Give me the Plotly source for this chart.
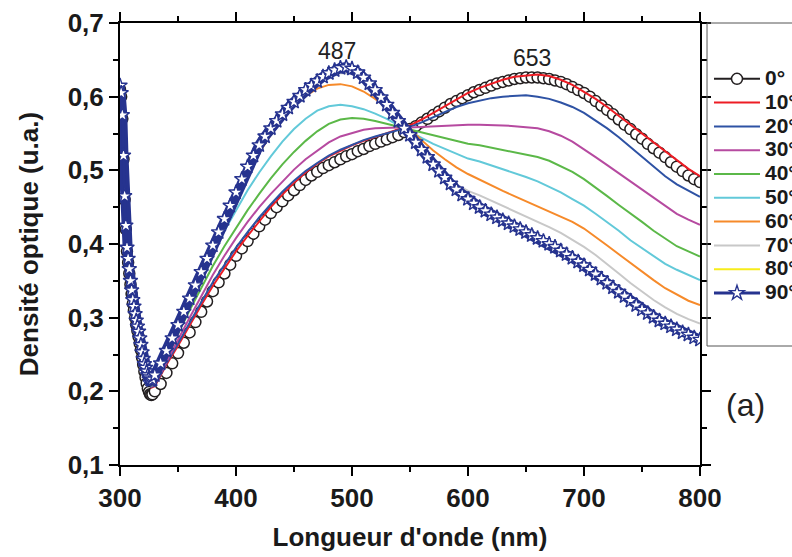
import plotly.graph_objects as go

# ---------------- data ----------------
angles = ["0°", "10°", "20°", "30°", "40°", "50°", "60°", "70°", "80°", "90°"]

# dense grid for the marker series (0° and 90°)
wl_fine = list(range(300, 329)) + list(range(330, 801, 5))

od_0 = [0.61, 0.6, 0.57, 0.515, 0.46, 0.42, 0.39, 0.375, 0.36, 0.345,
        0.332, 0.319, 0.31, 0.3, 0.29, 0.282, 0.274, 0.265, 0.256, 0.246,
        0.236, 0.227, 0.219, 0.211, 0.204, 0.199, 0.196, 0.195, 0.196,
        0.2, 0.21, 0.225, 0.238, 0.252, 0.266, 0.28, 0.294, 0.308, 0.322,
        0.336, 0.348, 0.36, 0.372, 0.384, 0.394, 0.404, 0.414, 0.424, 0.433,
        0.442, 0.45, 0.458, 0.466, 0.473, 0.48, 0.487, 0.493, 0.498, 0.503,
        0.507, 0.511, 0.515, 0.519, 0.522, 0.526, 0.529, 0.533, 0.536, 0.539,
        0.542, 0.545, 0.548, 0.552, 0.556, 0.56, 0.565, 0.57, 0.575, 0.58,
        0.585, 0.59, 0.594, 0.598, 0.602, 0.606, 0.609, 0.612, 0.615, 0.618,
        0.62, 0.622, 0.624, 0.625, 0.626, 0.626, 0.626, 0.625, 0.624, 0.622,
        0.62, 0.617, 0.613, 0.609, 0.605, 0.6, 0.594, 0.588, 0.582, 0.576,
        0.569, 0.562, 0.556, 0.549, 0.543, 0.536, 0.53, 0.524, 0.518, 0.511,
        0.505, 0.499, 0.493, 0.488, 0.484]

od_90 = [0.615, 0.605, 0.575, 0.52, 0.465, 0.425, 0.395, 0.38, 0.366, 0.35,
         0.337, 0.324, 0.315, 0.305, 0.296, 0.288, 0.281, 0.272, 0.263, 0.253,
         0.244, 0.237, 0.232, 0.227, 0.222, 0.219, 0.216, 0.215, 0.216,
         0.222, 0.238, 0.255, 0.272, 0.29, 0.308, 0.326, 0.344, 0.362, 0.38,
         0.398, 0.416, 0.434, 0.452, 0.47, 0.488, 0.505, 0.52, 0.534, 0.546,
         0.557, 0.567, 0.576, 0.585, 0.593, 0.601, 0.609, 0.615, 0.621, 0.627,
         0.632, 0.636, 0.639, 0.64, 0.638, 0.633, 0.626, 0.618, 0.609, 0.599,
         0.589, 0.578, 0.567, 0.557, 0.548, 0.538, 0.528, 0.518, 0.508, 0.499,
         0.49, 0.482, 0.474, 0.467, 0.461, 0.455, 0.45, 0.445, 0.44, 0.436,
         0.432, 0.428, 0.424, 0.42, 0.416, 0.412, 0.408, 0.404, 0.4, 0.396,
         0.391, 0.386, 0.381, 0.376, 0.371, 0.365, 0.359, 0.353, 0.347, 0.341,
         0.335, 0.329, 0.323, 0.317, 0.311, 0.306, 0.301, 0.296, 0.292, 0.288,
         0.284, 0.28, 0.277, 0.273, 0.27]

# shared UV edge (300-324 nm) for the line series
uv_wl = [300, 301, 302, 303, 304, 306, 308, 310, 313, 316, 320, 324]
uv_od = [0.618, 0.603, 0.573, 0.518, 0.463, 0.393, 0.363, 0.337, 0.305, 0.279, 0.244, 0.222]

wl_main = [327] + list(range(330, 801, 10))

od_10 = [0.205, 0.207, 0.236, 0.262, 0.29, 0.317, 0.343, 0.367, 0.39, 0.411,
         0.431, 0.45, 0.467, 0.483, 0.497, 0.509, 0.519, 0.527, 0.534, 0.54,
         0.545, 0.55, 0.555, 0.561, 0.569, 0.578, 0.588, 0.597, 0.605, 0.612,
         0.618, 0.623, 0.627, 0.629, 0.63, 0.628, 0.623, 0.616, 0.607, 0.597,
         0.586, 0.574, 0.561, 0.549, 0.537, 0.525, 0.513, 0.502, 0.492]
od_20 = [0.206, 0.208, 0.238, 0.265, 0.294, 0.321, 0.348, 0.372, 0.395, 0.416,
         0.436, 0.454, 0.471, 0.486, 0.499, 0.51, 0.52, 0.528, 0.535, 0.541,
         0.546, 0.55, 0.554, 0.559, 0.565, 0.572, 0.579, 0.586, 0.591, 0.595,
         0.598, 0.6, 0.601, 0.602, 0.6, 0.597, 0.592, 0.586, 0.578, 0.568,
         0.557, 0.545, 0.532, 0.518, 0.505, 0.492, 0.481, 0.472, 0.464]
od_30 = [0.207, 0.21, 0.241, 0.27, 0.3, 0.33, 0.358, 0.384, 0.408, 0.43,
         0.45, 0.468, 0.485, 0.501, 0.515, 0.527, 0.538, 0.546, 0.551, 0.555,
         0.557, 0.558, 0.558, 0.558, 0.559, 0.56, 0.561, 0.562, 0.562, 0.562,
         0.562, 0.561, 0.56, 0.559, 0.557, 0.553, 0.547, 0.539, 0.529, 0.518,
         0.507, 0.496, 0.485, 0.473, 0.462, 0.451, 0.441, 0.433, 0.426]
od_40 = [0.208, 0.212, 0.246, 0.278, 0.31, 0.341, 0.37, 0.397, 0.422, 0.446,
         0.468, 0.489, 0.508, 0.525, 0.54, 0.553, 0.563, 0.569, 0.571, 0.57,
         0.567, 0.563, 0.559, 0.555, 0.551, 0.547, 0.543, 0.539, 0.536, 0.534,
         0.531, 0.528, 0.525, 0.522, 0.518, 0.513, 0.506, 0.498, 0.488, 0.477,
         0.465, 0.453, 0.442, 0.43, 0.418, 0.407, 0.397, 0.39, 0.383]
od_50 = [0.209, 0.214, 0.252, 0.288, 0.323, 0.356, 0.388, 0.418, 0.446, 0.473,
         0.497, 0.519, 0.539, 0.556, 0.57, 0.581, 0.587, 0.589, 0.587, 0.583,
         0.577, 0.57, 0.561, 0.552, 0.544, 0.536, 0.529, 0.522, 0.516, 0.512,
         0.507, 0.502, 0.497, 0.491, 0.485, 0.478, 0.47, 0.461, 0.452, 0.441,
         0.43, 0.418, 0.405, 0.394, 0.383, 0.373, 0.365, 0.358, 0.351]
od_60 = [0.21, 0.216, 0.258, 0.297, 0.335, 0.371, 0.406, 0.438, 0.468, 0.497,
         0.524, 0.548, 0.569, 0.587, 0.601, 0.611, 0.616, 0.617, 0.614, 0.607,
         0.597, 0.585, 0.571, 0.556, 0.541, 0.527, 0.515, 0.504, 0.495, 0.487,
         0.479, 0.472, 0.465, 0.458, 0.451, 0.444, 0.437, 0.43, 0.421, 0.41,
         0.398, 0.386, 0.374, 0.362, 0.351, 0.34, 0.331, 0.323, 0.317]
od_70 = [0.212, 0.219, 0.254, 0.29, 0.325, 0.36, 0.398, 0.436, 0.472, 0.505,
         0.533, 0.556, 0.575, 0.592, 0.607, 0.619, 0.628, 0.632, 0.631, 0.624,
         0.61, 0.588, 0.566, 0.546, 0.526, 0.508, 0.493, 0.481, 0.472, 0.466,
         0.459, 0.452, 0.445, 0.438, 0.431, 0.423, 0.415, 0.406, 0.396, 0.385,
         0.373, 0.36, 0.347, 0.335, 0.324, 0.314, 0.305, 0.298, 0.292]
od_80 = [0.214, 0.221, 0.255, 0.29, 0.326, 0.362, 0.402, 0.439, 0.475, 0.508,
         0.535, 0.557, 0.575, 0.592, 0.608, 0.621, 0.632, 0.638, 0.637, 0.626,
         0.608, 0.588, 0.566, 0.547, 0.527, 0.507, 0.489, 0.473, 0.46, 0.449,
         0.439, 0.431, 0.423, 0.415, 0.407, 0.399, 0.39, 0.38, 0.37, 0.358,
         0.346, 0.334, 0.322, 0.31, 0.3, 0.29, 0.282, 0.275, 0.269]

x_ticks = [300, 400, 500, 600, 700, 800]
y_ticks = [0.1, 0.2, 0.3, 0.4, 0.5, 0.6, 0.7]
peak_labels = [("487", 487, 0.662), ("653", 655, 0.652)]

assert len(od_0) == len(wl_fine) and len(od_90) == len(wl_fine)
for s in (od_10, od_20, od_30, od_40, od_50, od_60, od_70, od_80):
    assert len(s) == len(wl_main)

colors = ["#231f20", "#ed1c24", "#2e52a4", "#b64aa0", "#5bb848",
          "#62c9d9", "#f68a2a", "#c8c8c8", "#f7ec1b", "#26338f"]

FONT = "Liberation Sans, Arial, sans-serif"

def leg(t):
    return f'<b><span style="font-size:21px">{t}</span></b>'

fig = go.Figure()

# 0° : open circles
fig.add_trace(go.Scatter(
    x=wl_fine, y=od_0, mode="lines+markers", name=leg(angles[0]),
    line=dict(color=colors[0], width=2),
    marker=dict(symbol="circle", size=11, color="white",
                line=dict(color=colors[0], width=1.5))))

line_series = [od_10, od_20, od_30, od_40, od_50, od_60, od_70, od_80]
for i, s in enumerate(line_series, start=1):
    fig.add_trace(go.Scatter(
        x=uv_wl + wl_main, y=uv_od + s, mode="lines", name=leg(angles[i]),
        line=dict(color=colors[i], width=2)))

# 90° : dense band of open stars (band underneath, stars on top)
fig.add_trace(go.Scatter(
    x=wl_fine, y=od_90, mode="lines", showlegend=False, hoverinfo="skip",
    line=dict(color=colors[9], width=10)))
fig.add_trace(go.Scatter(
    x=wl_fine, y=od_90, mode="lines+markers", name=leg(angles[9]),
    line=dict(color=colors[9], width=3),
    marker=dict(symbol="star", size=11, color="white",
                line=dict(color=colors[9], width=1.4))))

for txt, xx, yy in peak_labels:
    fig.add_annotation(x=xx, y=yy, text=txt, showarrow=False,
                       xanchor="center", yanchor="middle",
                       font=dict(family=FONT, size=23, color="#222"))

fig.add_annotation(xref="paper", yref="paper", x=1.079, y=0.136, text="(a)",
                   showarrow=False, xanchor="center", yanchor="middle",
                   font=dict(family=FONT, size=32, color="#222"))

# legend frame
fig.add_shape(type="rect", xref="paper", yref="paper",
              x0=1.0121, x1=1.3, y0=0.2692, y1=1.0,
              line=dict(color="#555", width=1), fillcolor="rgba(0,0,0,0)")

axis_common = dict(
    showline=True, linecolor="black", linewidth=2, mirror="ticks",
    ticks="outside", ticklen=9, tickwidth=1.5, tickcolor="black",
    showgrid=False, zeroline=False,
    tickfont=dict(family=FONT, size=26, color="#1a1a1a", weight="bold"),
)

fig.update_xaxes(
    range=[300, 800], tickvals=x_ticks, **axis_common,
    minor=dict(ticks="outside", ticklen=5, dtick=50, tickcolor="black", tickwidth=1.5),
    title=dict(text="Longueur d'onde (nm)", standoff=16,
               font=dict(family=FONT, size=26, color="#1a1a1a", weight="bold")))
fig.update_yaxes(
    range=[0.1, 0.7], tickvals=y_ticks, tickformat=".1f", **axis_common,
    minor=dict(ticks="outside", ticklen=5, dtick=0.05, tickcolor="black", tickwidth=1.5),
    title=dict(text="Densité optique (u.a.)", standoff=22,
               font=dict(family=FONT, size=26, color="#1a1a1a", weight="bold")))

fig.update_layout(
    width=792, height=557,
    margin=dict(l=120, r=92, t=23, b=92, autoexpand=False),
    paper_bgcolor="white", plot_bgcolor="white",
    separators=", ",
    showlegend=True,
    legend=dict(x=1.0155, xanchor="left", y=0.912, yanchor="top",
                bgcolor="rgba(0,0,0,0)", borderwidth=0,
                itemwidth=46,
                font=dict(family=FONT, size=16, color="#1a1a1a")),
)

fig.write_html("out.html", config={"displayModeBar": False},
               post_script="document.body.style.margin='0';document.body.style.overflow='hidden';")
